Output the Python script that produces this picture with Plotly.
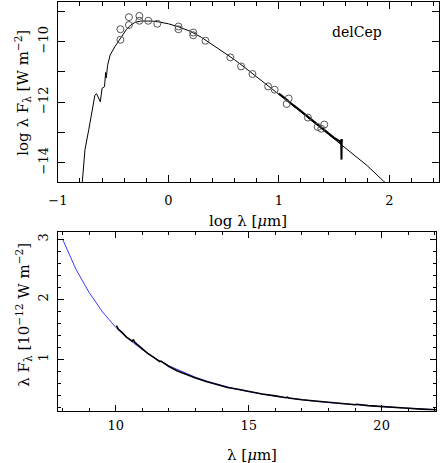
import plotly.graph_objects as go

# ---- top panel: SED (log lambda vs log lambda*F_lambda) ----
model_loglam = [-0.785, -0.755, -0.72, -0.665, -0.65, -0.616, -0.60, -0.578, -0.568,
                -0.562, -0.55, -0.527, -0.483, -0.454, -0.42, -0.38, -0.34, -0.30,
                -0.25, -0.20, -0.15, -0.10, -0.05, 0.0, 0.1, 0.2, 0.3, 0.4, 0.5,
                0.6, 0.7, 0.8, 0.9, 1.0, 1.2, 1.4, 1.6, 1.8, 1.95, 2.0]
model_logf = [-14.9, -13.57, -12.9, -11.77, -11.72, -11.99, -11.54, -11.49, -11.02,
              -11.2, -10.78, -10.44, -10.16, -10.0, -9.82, -9.6, -9.45, -9.36,
              -9.32, -9.31, -9.32, -9.34, -9.37, -9.41, -9.52, -9.66, -9.86, -10.1, -10.35,
              -10.6, -10.88, -11.16, -11.45, -11.74, -12.33, -12.92, -13.5, -14.1, -14.62, -14.77]

spec_loglam = [1.0, 1.03, 1.05, 1.08, 1.10, 1.13, 1.16, 1.20, 1.25, 1.30, 1.35, 1.40,
               1.45, 1.50, 1.53, 1.545, 1.552, 1.558, 1.562, 1.565, 1.567, 1.569, 1.572]
spec_logf = [-11.72, -11.82, -11.86, -11.95, -12.0, -12.1, -12.18, -12.3, -12.45, -12.6,
             -12.75, -12.9, -13.04, -13.18, -13.25, -13.27, -13.30, -13.36, -13.24,
             -13.45, -13.9, -13.32, -13.22]

phot_loglam = [-0.434, -0.434, -0.357, -0.357, -0.262, -0.262, -0.182, -0.10, 0.092,
               0.092, 0.225, 0.225, 0.336, 0.561, 0.658, 0.761, 0.903, 0.962, 1.071,
               1.089, 1.263, 1.351, 1.384, 1.411]
phot_logf = [-9.94, -9.59, -9.19, -9.45, -9.15, -9.31, -9.31, -9.41, -9.50,
             -9.59, -9.70, -9.79, -9.97, -10.52, -10.82, -11.07, -11.48, -11.59, -12.06,
             -11.88, -12.51, -12.82, -12.88, -12.74]

# ---- bottom panel: lambda vs lambda*F_lambda (1e-12 W m-2) ----
mod_lam = [8.0, 8.5, 9.0, 9.5, 10.0, 10.5, 11.0, 11.5, 12.0, 12.5, 13.0, 13.5, 14.0,
           14.5, 15.0, 15.5, 16.0, 16.5, 17.0, 17.5, 18.0, 18.5, 19.0, 19.5, 20.0,
           20.5, 21.0, 21.5, 22.0, 22.1]
mod_flux = [3.0, 2.50, 2.11, 1.79, 1.53, 1.33, 1.16, 1.01, 0.89, 0.79, 0.70, 0.625, 0.56,
            0.505, 0.46, 0.42, 0.385, 0.355, 0.325, 0.30, 0.28, 0.26, 0.243, 0.227, 0.21,
            0.198, 0.185, 0.17, 0.158, 0.156]

obs_lam = [10.02, 10.1, 10.2, 10.3, 10.4, 10.5, 10.58, 10.62, 10.66, 10.7, 10.8, 11.0,
           11.2, 11.4, 11.6, 11.65, 11.7, 12.0, 12.3, 12.6, 13.0, 13.4, 13.8, 14.2,
           14.6, 15.0, 15.5, 16.0, 16.4, 16.45, 16.5, 17.0, 17.5, 18.0, 18.5, 19.0,
           19.05, 19.5, 20.0, 20.5, 21.0, 21.5, 22.05]
obs_flux = [1.56, 1.50, 1.46, 1.41, 1.37, 1.34, 1.32, 1.30, 1.33, 1.29, 1.25, 1.17,
            1.10, 1.04, 0.98, 0.96, 0.97, 0.88, 0.81, 0.755, 0.69, 0.63, 0.58, 0.53,
            0.50, 0.46, 0.42, 0.39, 0.36, 0.37, 0.355, 0.325, 0.30, 0.28, 0.262, 0.243,
            0.25, 0.228, 0.21, 0.197, 0.184, 0.17, 0.158]

W, H = 441, 463
FONT = "DejaVu Serif"

fig = go.Figure()
fig.add_trace(go.Scatter(x=model_loglam, y=model_logf, mode="lines",
                         line=dict(color="black", width=1), xaxis="x", yaxis="y"))
fig.add_trace(go.Scatter(x=spec_loglam, y=spec_logf, mode="lines",
                         line=dict(color="black", width=2), xaxis="x", yaxis="y"))
fig.add_trace(go.Scatter(x=phot_loglam, y=phot_logf, mode="markers",
                         marker=dict(symbol="circle-open", size=7, color="#555555",
                                     line=dict(width=1)), xaxis="x", yaxis="y"))
fig.add_trace(go.Scatter(x=mod_lam, y=mod_flux, mode="lines",
                         line=dict(color="#3a3aff", width=1), xaxis="x2", yaxis="y2"))
fig.add_trace(go.Scatter(x=obs_lam, y=obs_flux, mode="lines",
                         line=dict(color="black", width=1.6), xaxis="x2", yaxis="y2"))

axis_style = dict(showline=True, linecolor="black", linewidth=1, mirror="allticks",
                  ticks="inside", tickcolor="black", showgrid=False, zeroline=False,
                  tickfont=dict(family=FONT, size=13, color="black"))

fig.update_layout(
    width=W, height=H, showlegend=False,
    paper_bgcolor="white", plot_bgcolor="white",
    margin=dict(l=0, r=0, t=0, b=0),
    xaxis=dict(domain=[49 / W, 439 / W], range=[-1.0, 2.45], anchor="y",
               dtick=1, tick0=0, ticklen=7, ticklabelstandoff=6,
               minor=dict(dtick=0.2, tick0=0, ticklen=4, ticks="inside", tickcolor="black"),
               **axis_style),
    yaxis=dict(domain=[1 - 182 / H, 1 - 2 / H], range=[-14.64, -8.69], anchor="x",
               dtick=2, tick0=-10, ticklen=7, tickangle=-90, ticklabelstandoff=4,
               minor=dict(dtick=1, tick0=-10, ticklen=7, ticks="inside", tickcolor="black"),
               **axis_style),
    xaxis2=dict(domain=[49 / W, 436 / W], range=[7.82, 22.05], anchor="y2",
                dtick=5, tick0=0, ticklen=6, ticklabelstandoff=3,
                minor=dict(dtick=1, tick0=0, ticklen=3, ticks="inside", tickcolor="black"),
                **axis_style),
    yaxis2=dict(domain=[1 - 410.7 / H, 1 - 231.7 / H], range=[0.143, 3.127], anchor="x2",
                dtick=1, tick0=0, ticklen=6, tickangle=-90, ticklabelstandoff=4,
                minor=dict(dtick=0.2, tick0=0, ticklen=3, ticks="inside", tickcolor="black"),
                **axis_style),
)

title_font = dict(family=FONT, size=15, color="black")
annots = [
    dict(text="log λ F<sub>λ</sub> [W m<sup>−2</sup>]", x=13 / W, y=1 - 93 / H, textangle=-90),
    dict(text="log λ [<i>μ</i>m]", x=244 / W, y=1 - 221 / H, textangle=0),
    dict(text="λ F<sub>λ</sub> [10<sup>−12</sup> W m<sup>−2</sup>]", x=13 / W, y=1 - 315 / H,
         textangle=-90),
    dict(text="λ [<i>μ</i>m]", x=248 / W, y=1 - 455 / H, textangle=0),
]
for a in annots:
    fig.add_annotation(xref="paper", yref="paper", showarrow=False, xanchor="center",
                       yanchor="middle", font=title_font, **a)
fig.add_annotation(text="delCep", xref="paper", yref="paper", x=355 / W, y=1 - 32 / H,
                   showarrow=False, xanchor="center", yanchor="middle",
                   font=dict(family=FONT, size=14, color="black"))

# page body has a default 8px margin; drop it so the figure sits at (0, 0)
fig.write_html("out.html", config={"displayModeBar": False},
               post_script="document.body.style.margin='0';")
